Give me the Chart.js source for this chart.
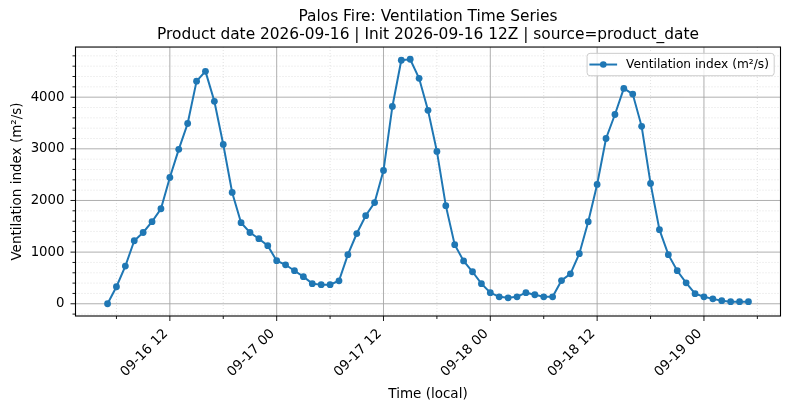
<!DOCTYPE html>
<html>
<head>
<meta charset="utf-8">
<script src="https://cdn.jsdelivr.net/npm/chart.js@4.4.1/dist/chart.umd.min.js"></script>
<style>
  html, body { margin: 0; padding: 0; background: #fff; }
  #chart { display: block; }
</style>
</head>
<body>
<canvas id="chart" width="790" height="409"></canvas>
<script>
// hours since 2026-09-16 00:00 local, one point per hour
const hours = [
  5, 6, 7, 8, 9, 10, 11, 12, 13, 14, 15, 16, 17, 18, 19, 20, 21, 22, 23,
  24, 25, 26, 27, 28, 29, 30, 31, 32, 33, 34, 35, 36, 37, 38, 39, 40, 41, 42, 43, 44, 45, 46, 47,
  48, 49, 50, 51, 52, 53, 54, 55, 56, 57, 58, 59, 60, 61, 62, 63, 64, 65, 66, 67, 68, 69, 70, 71,
  72, 73, 74, 75, 76, 77
];
// ventilation index (m²/s)
const ventIndex = [
  0, 330, 730, 1220, 1380, 1590, 1840, 2445, 2990, 3490, 4310, 4500, 3920, 3085, 2155, 1570, 1380, 1260, 1125,
  835, 755, 640, 525, 390, 370, 370, 445, 950, 1360, 1705, 1960, 2580, 3820, 4715, 4734, 4365, 3745, 2950, 1900, 1145, 830, 620, 390,
  215, 135, 115, 135, 215, 175, 135, 135, 450, 580, 970, 1590, 2310, 3200, 3665, 4170, 4060, 3435, 2330, 1435, 950, 640, 405, 195,
  135, 95, 60, 40, 40, 40
];
const majorHours = [12, 24, 36, 48, 60, 72];
const majorLabels = ['09-16 12', '09-17 00', '09-17 12', '09-18 00', '09-18 12', '09-19 00'];
const minorHours = [6, 18, 30, 42, 54, 66, 78];
const yMajor = [0, 1000, 2000, 3000, 4000];

const FONT = '"DejaVu Sans", sans-serif';
const BLUE = '#1f77b4';

// matplotlib-like 5% margins
const xSpan = Math.max(...hours) - Math.min(...hours);
const xMin = Math.min(...hours) - 0.05 * xSpan;
const xMax = Math.max(...hours) + 0.05 * xSpan;
const ySpan = Math.max(...ventIndex) - Math.min(...ventIndex);
const yMin = Math.min(...ventIndex) - 0.05 * ySpan;
const yMax = Math.max(...ventIndex) + 0.05 * ySpan;

const yTickVals = [];
for (let v = -200; v <= 4800; v += 200) yTickVals.push(v);
const xTickVals = [...majorHours, ...minorHours].sort((a, b) => a - b);

// grid, frame, ticks and legend drawn matplotlib style
const frame = {
  id: 'frame',
  beforeDatasetsDraw(chart) {
    const { ctx, chartArea: a, scales: { x, y } } = chart;
    ctx.save();
    ctx.beginPath();
    ctx.rect(a.left, a.top, a.right - a.left, a.bottom - a.top);
    ctx.clip();

    // minor grid
    ctx.strokeStyle = '#d4d4d4';
    ctx.lineWidth = 0.7;
    ctx.setLineDash([1, 2]);
    ctx.beginPath();
    yTickVals.filter(v => !yMajor.includes(v)).forEach(v => {
      const p = y.getPixelForValue(v);
      ctx.moveTo(a.left, p); ctx.lineTo(a.right, p);
    });
    minorHours.forEach(v => {
      const p = x.getPixelForValue(v);
      ctx.moveTo(p, a.top); ctx.lineTo(p, a.bottom);
    });
    ctx.stroke();

    // major grid
    ctx.setLineDash([]);
    ctx.strokeStyle = '#a6a6a6';
    ctx.lineWidth = 0.9;
    ctx.beginPath();
    yMajor.forEach(v => {
      const p = y.getPixelForValue(v);
      ctx.moveTo(a.left, p); ctx.lineTo(a.right, p);
    });
    majorHours.forEach(v => {
      const p = x.getPixelForValue(v);
      ctx.moveTo(p, a.top); ctx.lineTo(p, a.bottom);
    });
    ctx.stroke();
    ctx.restore();
  },
  afterDraw(chart) {
    const { ctx, chartArea: a, scales: { x, y } } = chart;
    ctx.save();
    // tick marks
    ctx.strokeStyle = '#000';
    ctx.lineWidth = 0.9;
    ctx.beginPath();
    yTickVals.forEach(v => {
      const p = y.getPixelForValue(v);
      const len = yMajor.includes(v) ? 5 : 3;
      ctx.moveTo(a.left, p); ctx.lineTo(a.left - len, p);
    });
    xTickVals.forEach(v => {
      const p = x.getPixelForValue(v);
      const len = majorHours.includes(v) ? 5 : 3;
      ctx.moveTo(p, a.bottom); ctx.lineTo(p, a.bottom + len);
    });
    ctx.stroke();

    // axes frame
    ctx.lineWidth = 1.1;
    ctx.strokeRect(a.left, a.top, a.right - a.left, a.bottom - a.top);

    // legend box (upper right)
    const label = chart.data.datasets[0].label;
    ctx.font = '12.2px ' + FONT;
    const tw = ctx.measureText(label).width;
    const bw = 2.3 + 27.7 + 9 + tw + 5.3;
    const bh = 22.4;
    const bx = a.right - 6.3 - bw;
    const by = a.top + 6.3;
    ctx.beginPath();
    ctx.roundRect(bx, by, bw, bh, 3);
    ctx.fillStyle = 'rgba(255,255,255,0.8)';
    ctx.fill();
    ctx.strokeStyle = '#cccccc';
    ctx.lineWidth = 1;
    ctx.stroke();
    const cy = by + bh / 2;
    ctx.strokeStyle = BLUE;
    ctx.lineWidth = 2;
    ctx.beginPath();
    ctx.moveTo(bx + 2.3, cy); ctx.lineTo(bx + 30, cy);
    ctx.stroke();
    ctx.fillStyle = BLUE;
    ctx.beginPath();
    ctx.arc(bx + 16.2, cy, 3.3, 0, Math.PI * 2);
    ctx.fill();
    ctx.fillStyle = '#000';
    ctx.textBaseline = 'middle';
    ctx.textAlign = 'left';
    ctx.fillText(label, bx + 39, cy + 0.5);
    ctx.restore();
  }
};

new Chart(document.getElementById('chart'), {
  type: 'line',
  data: {
    datasets: [{
      label: 'Ventilation index (m²/s)',
      data: hours.map((h, i) => ({ x: h, y: ventIndex[i] })),
      borderColor: BLUE,
      backgroundColor: BLUE,
      borderWidth: 2,
      pointRadius: 3.4,
      pointHoverRadius: 3.4,
      pointBorderWidth: 0,
      pointBackgroundColor: BLUE,
      tension: 0,
      fill: false
    }]
  },
  options: {
    responsive: false,
    animation: false,
    devicePixelRatio: 1,
    layout: { padding: { left: 0, right: 9.5, top: 0, bottom: 0 } },
    plugins: {
      legend: { display: false },
      tooltip: { enabled: false },
      title: {
        display: true,
        fullSize: false,
        text: [
          'Palos Fire: Ventilation Time Series',
          'Product date 2026-09-16 | Init 2026-09-16 12Z | source=product_date'
        ],
        color: '#000',
        font: { family: FONT, size: 15.4, weight: 'normal', lineHeight: 1.17 },
        padding: { top: 7.5, bottom: 3.5 }
      }
    },
    scales: {
      x: {
        type: 'linear',
        min: xMin,
        max: xMax,
        afterBuildTicks: s => { s.ticks = xTickVals.map(v => ({ value: v })); },
        afterFit: s => { s.height = 93; },
        grid: { display: false, drawTicks: false },
        border: { display: false },
        ticks: {
          autoSkip: false,
          minRotation: 45,
          maxRotation: 45,
          padding: 10,
          labelOffset: -4,
          color: '#000',
          font: { family: FONT, size: 13.5 },
          callback: v => {
            const i = majorHours.indexOf(v);
            return i >= 0 ? majorLabels[i] : '';
          }
        },
        title: {
          display: true,
          text: 'Time (local)',
          color: '#000',
          font: { family: FONT, size: 13.5 },
          padding: { top: 0, bottom: 6.5 }
        }
      },
      y: {
        type: 'linear',
        min: yMin,
        max: yMax,
        afterBuildTicks: s => { s.ticks = yTickVals.map(v => ({ value: v })); },
        afterFit: s => { s.width = 75.5; },
        grid: { display: false, drawTicks: false },
        border: { display: false },
        ticks: {
          autoSkip: false,
          padding: 11,
          color: '#000',
          font: { family: FONT, size: 13.3 },
          callback: v => (yMajor.includes(v) ? String(v) : '')
        },
        title: {
          display: true,
          text: 'Ventilation index (m²/s)',
          color: '#000',
          font: { family: FONT, size: 13.5 },
          padding: { top: 9, bottom: 0 }
        }
      }
    }
  },
  plugins: [frame]
});
</script>
</body>
</html>
